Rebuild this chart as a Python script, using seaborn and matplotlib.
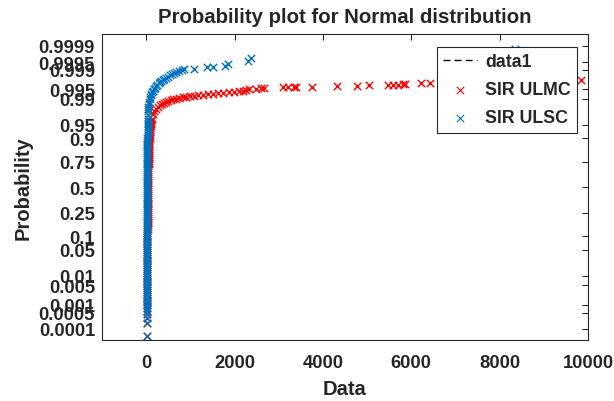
import numpy as np
import pandas as pd
import matplotlib
matplotlib.use('Agg')
import matplotlib.pyplot as plt
import seaborn as sns
from statistics import NormalDist

# plotting positions of the steep part (both samples sit close to zero here)
band_prob = [0.00097, 0.00135, 0.00187, 0.00256, 0.00347, 0.00466, 0.00621, 0.0082, 0.01072, 0.0139,
             0.01786, 0.02275, 0.02872, 0.03593, 0.04457, 0.0548, 0.06681, 0.08076, 0.0968, 0.11507,
             0.13567, 0.15866, 0.18406, 0.21186, 0.24196, 0.27425, 0.30854, 0.34458, 0.38209, 0.42074,
             0.46017, 0.5, 0.53983, 0.57926, 0.61791, 0.65542, 0.69146, 0.72575, 0.75804, 0.78814,
             0.81594, 0.84134, 0.86433, 0.88493, 0.9032, 0.91924, 0.93319, 0.9452, 0.95543, 0.96407]
ulmc_band = [14, 15, 16, 17, 18, 18, 19, 20, 21, 21,
             22, 23, 24, 24, 25, 26, 27, 28, 29, 30,
             31, 32, 33, 34, 35, 36, 37, 38, 39, 40,
             42, 43, 44, 46, 47, 49, 51, 53, 55, 57,
             60, 64, 68, 73, 78, 84, 91, 100, 110, 122]
ulsc_band = [8, 9, 9, 10, 10, 10, 11, 11, 11, 11,
             12, 12, 12, 12, 12, 13, 13, 13, 13, 14,
             14, 14, 14, 15, 15, 15, 16, 16, 16, 17,
             17, 18, 18, 19, 19, 20, 21, 21, 22, 23,
             24, 25, 27, 28, 30, 32, 34, 36, 38, 41]

# a second set of positions between the ones above
mid_prob = [0.00114, 0.00159, 0.00219, 0.00298, 0.00402, 0.00539, 0.00714, 0.00939, 0.01222, 0.0158,
            0.02018, 0.02559, 0.03216, 0.04006, 0.04947, 0.06057, 0.07353, 0.08851, 0.10565, 0.12507,
            0.14686, 0.17106, 0.19766, 0.22663, 0.25785, 0.2912, 0.32636, 0.36317, 0.40129, 0.44038,
            0.48006, 0.51994, 0.55962, 0.59871, 0.63683, 0.67364, 0.7088, 0.74215, 0.77337, 0.80234,
            0.82894, 0.85314, 0.87493, 0.89435, 0.91149, 0.92647, 0.93943, 0.95053, 0.95994]
ulmc_mid = [14, 15, 16, 17, 18, 19, 19, 20, 21, 22,
            22, 23, 24, 25, 25, 26, 27, 28, 29, 30,
            31, 32, 33, 34, 35, 36, 37, 38, 39, 41,
            42, 43, 45, 46, 48, 50, 52, 54, 56, 58,
            62, 66, 70, 75, 81, 87, 95, 105, 116]
ulsc_mid = [9, 9, 10, 10, 10, 11, 11, 11, 11, 12,
            12, 12, 12, 12, 13, 13, 13, 13, 14, 14,
            14, 14, 15, 15, 15, 16, 16, 16, 17, 17,
            17, 18, 19, 19, 20, 20, 21, 22, 22, 23,
            24, 26, 27, 29, 31, 33, 35, 37, 40]

# lowest points
low_prob = [0.000048, 0.00019, 0.00029, 0.00043, 0.0006, 0.00076]
ulmc_low = [14, 15, 13, 16, 14, 15]
ulsc_low = [12, 10, 12, 9, 11, 10]

# upper tails
ulmc_tail_prob = [0.9729, 0.97747, 0.98016, 0.98253, 0.98419, 0.98567, 0.98659, 0.98749, 0.9883, 0.98908,
                  0.98961, 0.9901, 0.99051, 0.99089, 0.99127, 0.99158, 0.99187, 0.99218, 0.99245, 0.99272,
                  0.99298, 0.99317, 0.99343, 0.99367, 0.9939, 0.99412, 0.99433, 0.99454,
                  0.99509, 0.99527, 0.99534, 0.9954, 0.99569, 0.99573, 0.99577, 0.99579, 0.99588, 0.99598,
                  0.9962, 0.99626, 0.9964, 0.99645, 0.99648, 0.99659, 0.99667, 0.99685, 0.99693, 0.99764]
ulmc_tail = [148, 182, 216, 273, 318, 364, 398, 443, 500, 557,
             614, 682, 750, 830, 909, 1000, 1091, 1182, 1295, 1409,
             1523, 1636, 1750, 1864, 1977, 2091, 2182, 2250,
             2318, 2477, 2591, 2659, 3091, 3205, 3341, 3386, 3743, 4318,
             4773, 5034, 5477, 5591, 5705, 5818, 5864, 6211, 6416, 9848]
ulsc_tail_prob = [0.97128, 0.97725, 0.9803, 0.983, 0.98574, 0.98778, 0.98983, 0.99134, 0.99224, 0.99305,
                  0.99379, 0.99446, 0.99506, 0.9956, 0.99609, 0.99653, 0.99683, 0.99711, 0.99736, 0.9976,
                  0.99781, 0.99801, 0.99819, 0.99836, 0.99851, 0.99865, 0.99878, 0.99889, 0.99897, 0.99903,
                  0.99906, 0.99918, 0.99921, 0.9993, 0.9994, 0.99953, 0.99966, 0.99986]
ulsc_tail = [42, 44, 45, 48, 57, 65, 80, 93, 102, 113,
             125, 148, 170, 193, 216, 250, 280, 318, 341, 375,
             410, 450, 490, 534, 580, 625, 680, 740, 800, 860,
             1075, 1386, 1523, 1780, 1848, 2302, 2364, 8340]

prob_ticks = [0.0001, 0.0005, 0.001, 0.005, 0.01, 0.05, 0.1, 0.25, 0.5, 0.75, 0.9, 0.95, 0.99, 0.995, 0.999, 0.9995, 0.9999]
prob_labels = ['0.0001', '0.0005', '0.001', '0.005', '0.01', '0.05', '0.1', '0.25', '0.5', '0.75', '0.9', '0.95', '0.99', '0.995', '0.999', '0.9995', '0.9999']
data_ticks = [0, 2000, 4000, 6000, 8000, 10000]

ulmc = pd.DataFrame({'Data': ulmc_low + ulmc_band + ulmc_mid + ulmc_tail,
                     'Probability': low_prob + band_prob + mid_prob + ulmc_tail_prob})
ulsc = pd.DataFrame({'Data': ulsc_low + ulsc_band + ulsc_mid + ulsc_tail,
                     'Probability': low_prob + band_prob + mid_prob + ulsc_tail_prob})

nd = NormalDist()
def probit(p):
    p = np.clip(np.asarray(p, dtype=float), 1e-9, 1 - 1e-9)
    return np.vectorize(nd.inv_cdf, otypes=[float])(p)
def probit_inv(z):
    return np.vectorize(nd.cdf, otypes=[float])(np.asarray(z, dtype=float))

sns.set_style('white')
plt.rcParams['font.family'] = ['Liberation Sans', 'DejaVu Sans']
plt.rcParams['font.weight'] = 'bold'

fig = plt.figure(figsize=(6.14, 4.02), dpi=100)
ax = fig.add_axes([0.1661, 0.1517, 0.7915, 0.7612])

ax.plot([], [], color='black', linestyle=(0, (5, 3)), linewidth=1, label='data1')
sns.scatterplot(data=ulmc, x='Data', y='Probability', marker='x', color='red', s=28, linewidth=1.0, label='SIR ULMC', ax=ax)
sns.scatterplot(data=ulsc, x='Data', y='Probability', marker='x', color='#0072BD', s=28, linewidth=1.0, label='SIR ULSC', ax=ax)

ax.set_yscale('function', functions=(probit, probit_inv))
ax.set_ylim(0.00003, 0.9999717)
ax.set_xlim(-1000, 10000)
ax.set_yticks(prob_ticks)
ax.set_yticklabels(prob_labels)
ax.set_xticks(data_ticks)
ax.minorticks_off()
ax.tick_params(direction='in', top=True, right=True, length=4, width=0.8, labelsize=13.2,
               colors='#262626', labelcolor='#262626')
ax.tick_params(axis='y', pad=5)
ax.tick_params(axis='x', pad=10)
for sp in ax.spines.values():
    sp.set_color('#262626')
    sp.set_linewidth(0.8)

ax.set_title('Probability plot for Normal distribution', fontsize=14.7, fontweight='bold', pad=9)
ax.set_xlabel('Data', fontsize=14.5, fontweight='bold', color='#262626', labelpad=6)
ax.set_ylabel('Probability', fontsize=14.5, fontweight='bold', color='#262626', labelpad=4)

leg = ax.legend(loc='upper right', bbox_to_anchor=(0.977, 0.9575), borderaxespad=0, fontsize=12.8,
                frameon=True, fancybox=False, edgecolor='#262626', framealpha=1, handlelength=1.9,
                labelspacing=0.62, handletextpad=0.45, borderpad=0.35, markerscale=1.0)
leg.get_frame().set_linewidth(0.8)
for h in leg.legend_handles[1:]:
    h.set_linewidth(0.8)

fig.savefig('out.png', dpi=100)
